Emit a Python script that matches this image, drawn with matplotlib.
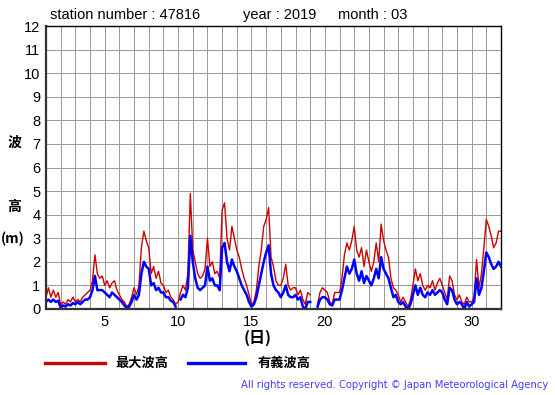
import numpy as np
import matplotlib
matplotlib.use("Agg")
import matplotlib.pyplot as plt
from matplotlib.lines import Line2D

# wave heights (m), March 2019, station 47816, 6 values per day (every 4 h)
nan = np.nan
max_wave = [
    0.5, 0.9, 0.5, 0.8, 0.5, 0.7,    # 1
    0.15, 0.3, 0.2, 0.4, 0.3, 0.5,   # 2
    0.3, 0.4, 0.3, 0.5, 0.6, 0.7,    # 3
    0.8, 1.2, 2.3, 1.5, 1.3, 1.4,    # 4
    1.0, 1.2, 0.9, 1.1, 1.2, 0.8,    # 5
    0.6, 0.4, 0.3, 0.1, 0.2, 0.5,    # 6
    0.9, 0.6, 1.0, 2.6, 3.3, 2.9,    # 7
    2.6, 1.5, 1.8, 1.3, 1.6, 1.1,    # 8
    1.0, 0.7, 0.8, 0.5, 0.4, 0.2,    # 9
    0.3, 0.7, 1.0, 0.8, 1.5, 4.9,    # 10
    2.5, 2.0, 1.5, 1.3, 1.4, 1.7,    # 11
    3.0, 1.8, 2.0, 1.5, 1.6, 1.3,    # 12
    4.2, 4.5, 3.0, 2.5, 3.5, 3.0,    # 13
    2.5, 2.2, 1.7, 1.3, 1.0, 0.6,    # 14
    0.2, 0.3, 0.8, 1.8, 2.5, 3.5,    # 15
    3.8, 4.3, 2.2, 1.8, 1.2, 1.0,    # 16
    1.0, 1.3, 1.9, 1.0, 0.8, 0.9,    # 17
    0.9, 0.6, 0.8, 0.4, 0.2, 0.7,    # 18
    0.6, nan, nan, 0.2, 0.7, 0.9,    # 19
    0.8, 0.7, 0.3, 0.2, 0.7, 0.7,    # 20
    0.7, 1.3, 2.3, 2.8, 2.5, 2.9,    # 21
    3.5, 2.5, 2.2, 2.6, 1.8, 2.5,    # 22
    2.0, 1.6, 2.0, 2.8, 2.0, 3.6,    # 23
    2.9, 2.5, 2.2, 1.3, 0.9, 0.8,    # 24
    0.6, 0.3, 0.5, 0.3, 0.1, 0.4,    # 25
    1.0, 1.7, 1.2, 1.5, 1.0, 0.8,    # 26
    1.0, 0.9, 1.2, 0.8, 1.1, 1.3,    # 27
    1.0, 0.7, 0.4, 1.4, 1.2, 0.6,    # 28
    0.4, 0.6, 0.3, 0.2, 0.5, 0.3,    # 29
    0.3, 0.5, 2.1, 0.9, 1.5, 2.6,    # 30
    3.8, 3.5, 3.1, 2.6, 2.8, 3.3,    # 31
    3.3,
]
sig_wave = [
    0.3, 0.4, 0.3, 0.4, 0.3, 0.35,   # 1
    0.05, 0.15, 0.1, 0.2, 0.15, 0.25,  # 2
    0.2, 0.3, 0.2, 0.3, 0.4, 0.4,    # 3
    0.5, 0.8, 1.4, 0.8, 0.8, 0.8,    # 4
    0.7, 0.6, 0.5, 0.7, 0.6, 0.5,    # 5
    0.4, 0.3, 0.15, 0.05, 0.1, 0.3,  # 6
    0.6, 0.4, 0.6, 1.5, 2.0, 1.8,    # 7
    1.7, 1.0, 1.1, 0.8, 0.9, 0.7,    # 8
    0.7, 0.5, 0.5, 0.35, 0.3, 0.1,   # 9
    nan, 0.4, 0.6, 0.5, 0.9, 3.1,    # 10
    2.0, 1.3, 0.9, 0.8, 0.9, 1.0,    # 11
    1.8, 1.2, 1.3, 1.0, 1.0, 0.8,    # 12
    2.6, 2.8, 2.0, 1.6, 2.1, 1.8,    # 13
    1.6, 1.3, 1.0, 0.8, 0.6, 0.3,    # 14
    0.1, 0.2, 0.5, 1.0, 1.5, 2.0,    # 15
    2.4, 2.7, 1.5, 1.0, 0.8, 0.7,    # 16
    0.5, 0.7, 1.0, 0.6, 0.5, 0.5,    # 17
    0.6, 0.4, 0.5, 0.1, 0.0, 0.3,    # 18
    0.3, nan, nan, 0.1, 0.4, 0.5,    # 19
    0.5, 0.4, 0.2, 0.15, 0.4, 0.4,   # 20
    0.4, 0.8, 1.3, 1.8, 1.5, 1.7,    # 21
    2.1, 1.5, 1.2, 1.6, 1.1, 1.4,    # 22
    1.2, 1.0, 1.3, 1.7, 1.3, 2.2,    # 23
    1.7, 1.5, 1.3, 0.9, 0.5, 0.6,    # 24
    0.3, 0.2, 0.3, 0.1, 0.0, 0.2,    # 25
    0.6, 1.0, 0.6, 0.9, 0.6, 0.5,    # 26
    0.7, 0.6, 0.8, 0.6, 0.7, 0.8,    # 27
    0.7, 0.4, 0.2, 0.9, 0.8, 0.4,    # 28
    0.2, 0.3, 0.2, 0.0, 0.3, 0.1,    # 29
    0.2, 0.3, 1.3, 0.6, 0.9, 1.6,    # 30
    2.4, 2.2, 1.9, 1.7, 1.8, 2.0,    # 31
    1.8,
]
x_ticks = [5, 10, 15, 20, 25, 30]
legend_labels = ["最大波高", "有義波高"]

days = 1 + np.arange(len(max_wave)) / 6.0

W, H = 555, 395
fig = plt.figure(figsize=(W / 100, H / 100), dpi=100)
ax = fig.add_axes([46 / W, 1 - 309 / H, (501 - 46) / W, (309 - 26) / H])

ax.plot(days, max_wave, color="#cc0000", lw=1.0)
ax.plot(days, sig_wave, color="#0000ff", lw=1.8)

ax.set_xlim(1, 32)
ax.set_ylim(0, 12)
ax.set_xticks(np.arange(1, 33), minor=True)
ax.set_xticks(x_ticks)
ax.set_yticks(np.arange(0, 13))
ax.grid(True, which="both", color="#999999", lw=0.7)
ax.tick_params(which="both", length=0, labelsize=10.5, pad=4)
for lab in ax.get_xticklabels() + ax.get_yticklabels():
    lab.set_family("Liberation Sans")
for s in ["top", "right"]:
    ax.spines[s].set_linewidth(1.0)
    ax.spines[s].set_color("black")
for s in ["left", "bottom"]:
    ax.spines[s].set_linewidth(1.6)
    ax.spines[s].set_color("#333333")

tfont = dict(family="Liberation Sans", fontsize=10.5, va="center", ha="left")
fig.text(50 / W, 1 - 15 / H, "station number : 47816", **tfont)
fig.text(243 / W, 1 - 15 / H, "year : 2019", **tfont)
fig.text(338 / W, 1 - 15 / H, "month : 03", **tfont)

jfont = dict(family=["Noto Sans CJK JP", "DejaVu Sans"], fontweight="bold",
             va="center")
fig.text(14 / W, 1 - 143 / H, "波", ha="center", fontsize=10, **jfont)
fig.text(14 / W, 1 - 207 / H, "高", ha="center", fontsize=10, **jfont)
fig.text(1 / W, 1 - 239 / H, "(m)", ha="left", fontsize=10, **jfont)
fig.text(258 / W, 1 - 338 / H, "(日)", ha="center", fontsize=11.5, **jfont)

fig.add_artist(Line2D([45 / W, 105 / W], [1 - 363 / H] * 2, color="#cc0000",
                      lw=2.4, transform=fig.transFigure))
fig.text(115 / W, 1 - 363 / H, legend_labels[0], ha="left", fontsize=9.5, **jfont)
fig.add_artist(Line2D([188 / W, 245 / W], [1 - 363 / H] * 2, color="#0000ff",
                      lw=2.4, transform=fig.transFigure))
fig.text(258 / W, 1 - 363 / H, legend_labels[1], ha="left", fontsize=9.5, **jfont)

fig.text(548 / W, 1 - 385 / H,
         "All rights reserved. Copyright © Japan Meteorological Agency",
         ha="right", va="center", fontsize=7.2, color="#4040ff",
         family="DejaVu Sans")

fig.savefig("out.png", dpi=100)
